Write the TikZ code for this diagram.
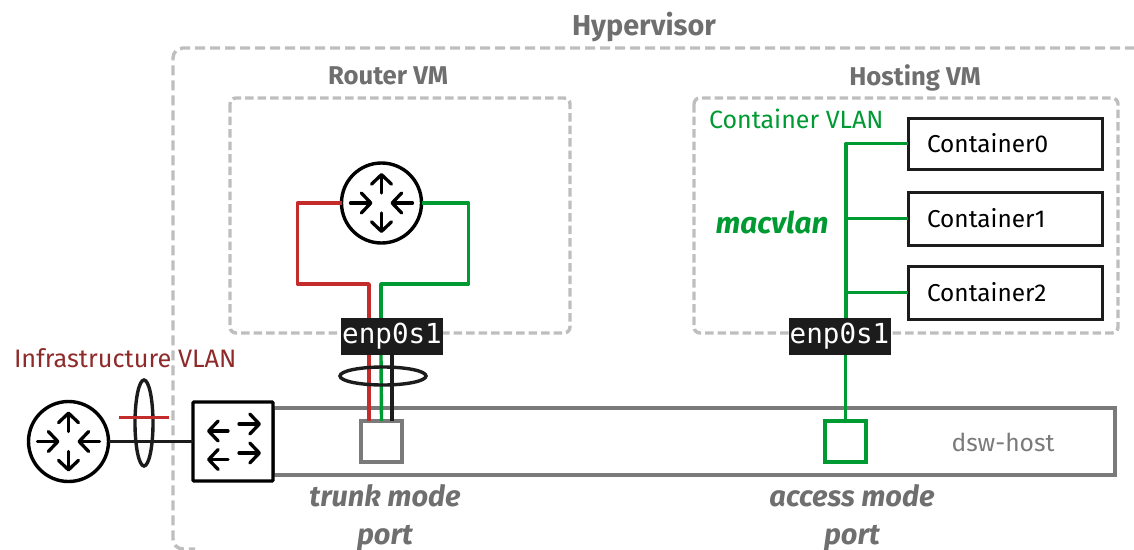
\documentclass[tikz,border=0pt]{standalone}
\usepackage{fontspec}
\setmainfont{Fira Sans}
\newfontfamily\monof{DejaVu Sans Mono}
\usetikzlibrary{arrows.meta,calc,shapes.geometric}
\definecolor{cred}{HTML}{C42B2B}
\definecolor{cgreen}{HTML}{009A33}
\definecolor{cdash}{HTML}{BEBEBE}
\definecolor{cgray}{HTML}{7A7A7A}
\definecolor{ctext}{HTML}{6F6F6F}
\definecolor{cblack}{HTML}{1C1C1C}
\definecolor{cinfra}{HTML}{8E2A2A}
\tikzset{
  x=1pt,y=-1pt,
  every node/.style={inner sep=0pt,outer sep=0pt},
  hyperdash/.style={draw=cdash,line width=3.4pt,dash pattern=on 10pt off 5pt,rounded corners=10pt},
  vmdash/.style={draw=cdash,line width=3.4pt,dash pattern=on 8.5pt off 4pt,rounded corners=6pt},
  wirered/.style={draw=cred,line width=3.4pt,line join=round},
  wiregreen/.style={draw=cgreen,line width=3.4pt,line join=round},
  wireblack/.style={draw=cblack,line width=3.2pt},
  routernode/.style={circle,draw=black,line width=3.4pt,fill=white,minimum size=80pt},
  switchnode/.style={rectangle,draw=black,line width=3.4pt,fill=white,minimum width=80pt,minimum height=79pt,rounded corners=1pt},
  hostnode/.style={rectangle,draw=cgray,line width=3.2pt,minimum width=842pt,minimum height=67pt},
  portnode/.style={rectangle,line width=3.2pt,fill=white,minimum size=41pt},
  ifnode/.style={rectangle,fill=cblack,text=white,font=\monof\fontsize{27.6}{27.6}\selectfont,minimum width=102pt,minimum height=37pt},
  contnode/.style={rectangle,draw=cblack,line width=3pt,fill=white,text=black,text width=156pt,inner xsep=19pt,align=left,font=\fontsize{24.4}{24.4}\selectfont},
  ring/.style={draw=cblack,line width=3.4pt,ellipse},
  arr/.style={draw=black,line width=3.3pt,line cap=round,-{Straight Barb[length=9.5pt,width=20pt,round]}},
  title/.style={text=ctext,anchor=base,font=\bfseries\fontsize{25.7}{25.7}\selectfont},
  slab/.style={text=ctext,anchor=base,font=\bfseries\itshape\fontsize{29}{29}\selectfont},
}
\newcommand{\routerarrows}[1]{%
  \begin{scope}[shift={(#1.center)}]
    \draw[arr] (0,-10) -- (0,-30);
    \draw[arr] (0,10) -- (0,30);
    \draw[arr] (-31,0) -- (-9,0);
    \draw[arr] (31,0) -- (9,0);
  \end{scope}}
\begin{document}
\begin{tikzpicture}
\path[use as bounding box] (0,0) rectangle (1134,549);
\clip (0,0) rectangle (1134,549);
% frames
\coordinate (hvTR) at (1150,48);
\draw[hyperdash] (hvTR) -- (173,48) -- (173,549) -- (195,549);
\node (hvlabel) [title,font=\bfseries\fontsize{28.8}{28.8}\selectfont] at (644,35) {Hypervisor};
\draw[vmdash] (230,98) rectangle (570,333);
\draw[vmdash] (694,98) rectangle (1118,333);
\node (rvmlabel) [title] at (388,84) {Router VM};
\node (hvmlabel) [title] at (915,85) {Hosting VM};
% host and ports
\node (host) [hostnode] at (694,441.5) {};
\node (hostlabel) [text=cgray,font=\fontsize{24.6}{24.6}\selectfont,anchor=base] at (1003,451) {dsw-host};
\node (enpA) [ifnode] at (392,336.5) {enp0s1};
\node (enpB) [ifnode] at (839.5,336.5) {enp0s1};
% router VM
\node (rtrA) [routernode] at (381.5,203) {};
\routerarrows{rtrA}
\node (portA) [portnode,draw=cgray] at (381.5,441.5) {};
\draw[wirered] (rtrA.west) -- ++(-44,0) -- ++(0,81) -| ([xshift=-23pt]enpA.north);
\draw[wiregreen] (rtrA.east) -- ++(47,0) -- ++(0,81) -| ([xshift=-11pt]enpA.north);
\draw[wirered] ([xshift=-23pt]enpA.south) -- ([xshift=-12.5pt]portA.north);
\draw[wiregreen] ([xshift=-11pt]enpA.south) -- (portA.north);
\draw[wireblack] (enpA.south) -- ([xshift=10.5pt]portA.north);
\node (ringA) [ring,minimum width=86pt,minimum height=18pt] at (383,376) {};
% hosting VM
\node (c0) [contnode,minimum height=51pt] at (1005,143.5) {Container0};
\node (c1) [contnode,minimum height=53pt] at (1005,218.5) {Container1};
\node (c2) [contnode,minimum height=53pt] at (1005,292.5) {Container2};
\coordinate (busTop) at (846,143.5);
\draw[wiregreen] (c0.west) -- (busTop) -- (busTop |- enpB.north);
\draw[wiregreen] (c1.west) -- (c1.west -| busTop);
\draw[wiregreen] (c2.west) -- (c2.west -| busTop);
\node (portB) [portnode,draw=cgreen,fill=white] at (845.5,441.5) {};
\draw[wiregreen] (portB.north) -- (portB.north |- enpB.south);
\node (cvlan) [text=cgreen,anchor=base west,font=\fontsize{25}{25}\selectfont] at (709,128) {Container VLAN};
\node (macv) [text=cgreen,anchor=base,font=\bfseries\itshape\fontsize{29.7}{29.7}\selectfont] at (772,233) {macvlan};
% left side
\node (rtrB) [routernode] at (68.5,441.5) {};
\routerarrows{rtrB}
\node (sw) [switchnode] at (233,441.5) {};
\begin{scope}[shift={(sw.center)}]
  \draw[arr] (-5,-10.5) -- (-26,-10.5);
  \draw[arr] (6,-17.5) -- (28,-17.5);
  \draw[arr] (-5,18) -- (-26,18);
  \draw[arr] (6,11.5) -- (28,11.5);
\end{scope}
\draw[wireblack] (rtrB.east) -- (sw.west);
\node (ringB) [ring,minimum width=18pt,minimum height=86pt] at (144,423) {};
\coordinate (barL) at (119,417.5);
\coordinate (barR) at (169,417.5);
\draw[wirered] (barL) -- (barR);
\node (infra) [text=cinfra,anchor=base west,font=\fontsize{25.3}{25.3}\selectfont] at (14,367) {Infrastructure VLAN};
\node (trunk1) [slab] at (385,506) {trunk mode};
\node (trunk2) [slab] at (385,544) {port};
\node (acc1) [slab] at (852,506) {access mode};
\node (acc2) [slab] at (852,544) {port};
\end{tikzpicture}
\end{document}
